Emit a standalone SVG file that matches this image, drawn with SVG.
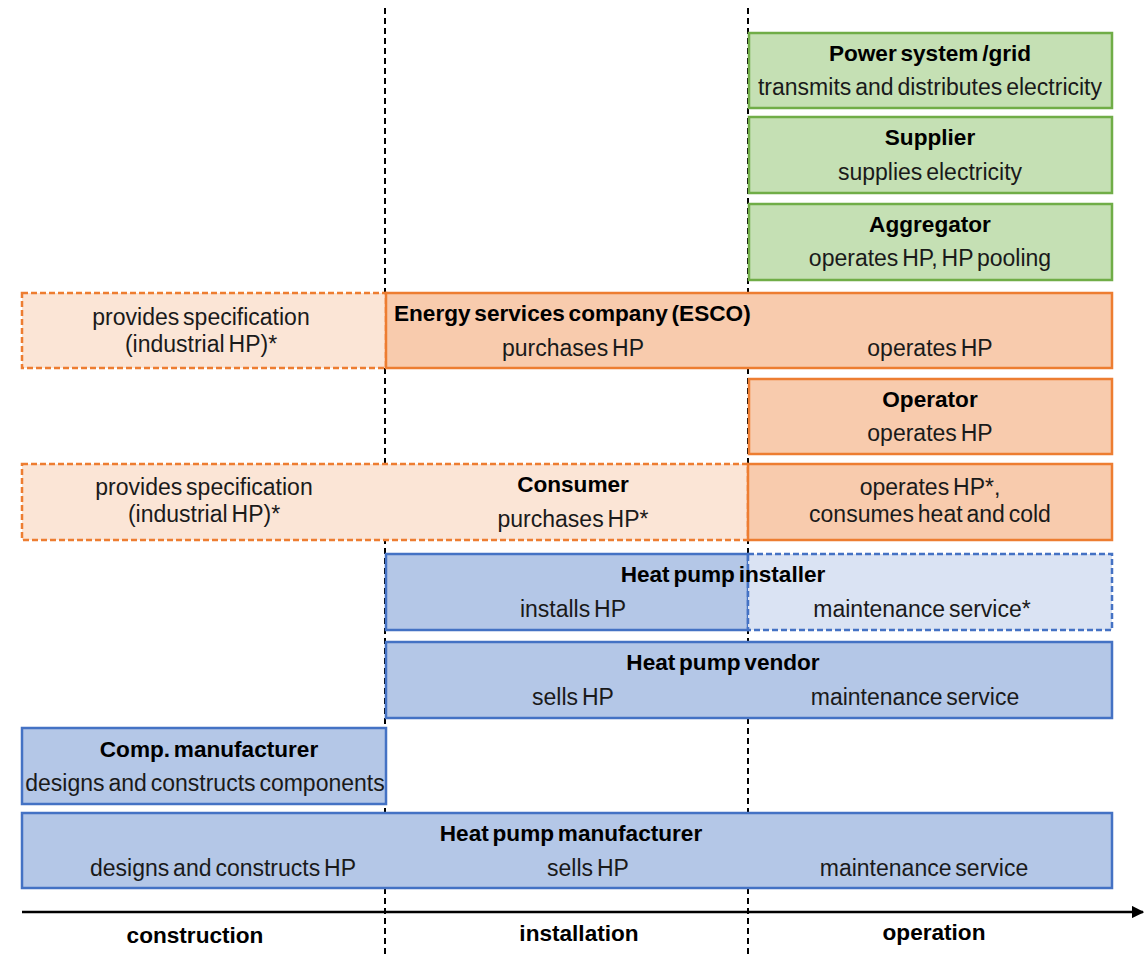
<svg xmlns="http://www.w3.org/2000/svg" width="1145" height="956" viewBox="0 0 1145 956">
<defs>
<style>
text{font-family:"Liberation Sans",Arial,sans-serif;font-size:23px;fill:#1a1a1a;text-anchor:middle;word-spacing:-2.5px}
.b{font-weight:bold;fill:#000;font-size:22.6px}
.g{fill:#C5E0B4;stroke:#70AD47;stroke-width:2.5}
.o{fill:#F8CBAD;stroke:#ED7D31;stroke-width:2.5}
.ol{fill:#FBE5D6;stroke:#ED7D31;stroke-width:2.5;stroke-dasharray:6 3}
.u{fill:#B4C7E7;stroke:#4472C4;stroke-width:2.5}
.ul{fill:#DAE3F3;stroke:#4472C4;stroke-width:2.5;stroke-dasharray:6 3}
.v{stroke:#000;stroke-width:2;stroke-dasharray:6 4;fill:none}
</style>
<marker id="arr" viewBox="0 0 10 10" refX="9" refY="5" markerWidth="5" markerHeight="5" orient="auto"><path d="M0,0 L10,5 L0,10 z" fill="#000"/></marker>
</defs>
<rect width="1145" height="956" fill="#fff"/>
<g id="connectors">
<line class="v" x1="385" y1="8" x2="385" y2="956"/>
<line class="v" x1="748" y1="8" x2="748" y2="956"/>
<line x1="22" y1="912" x2="1143" y2="912" stroke="#000" stroke-width="2.5" marker-end="url(#arr)"/>
</g>
<g id="grid">
<rect class="g" x="749" y="33" width="363" height="75"/>
<text class="b" x="930" y="61">Power system /grid</text>
<text x="930" y="95">transmits and distributes electricity</text>
</g>
<g id="supplier">
<rect class="g" x="749" y="117" width="363" height="76"/>
<text class="b" x="930" y="145">Supplier</text>
<text x="930" y="180">supplies electricity</text>
</g>
<g id="aggregator">
<rect class="g" x="749" y="204" width="363" height="76"/>
<text class="b" x="930" y="232">Aggregator</text>
<text x="930" y="266">operates HP, HP pooling</text>
</g>
<g id="esco">
<rect class="ol" x="22" y="293" width="364" height="75"/>
<rect class="o" x="386" y="293" width="726" height="75"/>
<text x="201" y="325">provides specification</text>
<text x="201" y="352">(industrial HP)*</text>
<text class="b" x="394" y="321" style="text-anchor:start">Energy services company (ESCO)</text>
<text x="573" y="356">purchases HP</text>
<text x="930" y="356">operates HP</text>
</g>
<g id="operator">
<rect class="o" x="749" y="379" width="363" height="75"/>
<text class="b" x="930" y="407">Operator</text>
<text x="930" y="441">operates HP</text>
</g>
<g id="consumer">
<rect class="ol" x="22" y="464" width="726" height="76"/>
<rect class="o" x="748" y="464" width="364" height="76"/>
<text x="204" y="495">provides specification</text>
<text x="204" y="522">(industrial HP)*</text>
<text class="b" x="573" y="492">Consumer</text>
<text x="573" y="527">purchases HP*</text>
<text x="930" y="495">operates HP*,</text>
<text x="930" y="522">consumes heat and cold</text>
</g>
<g id="installer">
<rect class="u" x="386" y="554" width="362" height="76"/>
<rect class="ul" x="748" y="554" width="364" height="76"/>
<text class="b" x="723" y="582">Heat pump installer</text>
<text x="573" y="617">installs HP</text>
<text x="922" y="617">maintenance service*</text>
</g>
<g id="vendor">
<rect class="u" x="386" y="642" width="726" height="76"/>
<text class="b" x="723" y="670">Heat pump vendor</text>
<text x="573" y="705">sells HP</text>
<text x="915" y="705">maintenance service</text>
</g>
<g id="comp">
<rect class="u" x="22" y="728" width="364" height="76"/>
<text class="b" x="209" y="757">Comp. manufacturer</text>
<text x="205" y="791">designs and constructs components</text>
</g>
<g id="manufacturer">
<rect class="u" x="22" y="813" width="1090" height="75"/>
<text class="b" x="571" y="841">Heat pump manufacturer</text>
<text x="223" y="876">designs and constructs HP</text>
<text x="588" y="876">sells HP</text>
<text x="924" y="876">maintenance service</text>
</g>
<g id="phases">
<text class="b" x="195" y="943">construction</text>
<text class="b" x="579" y="941">installation</text>
<text class="b" x="934" y="940">operation</text>
</g>
</svg>
